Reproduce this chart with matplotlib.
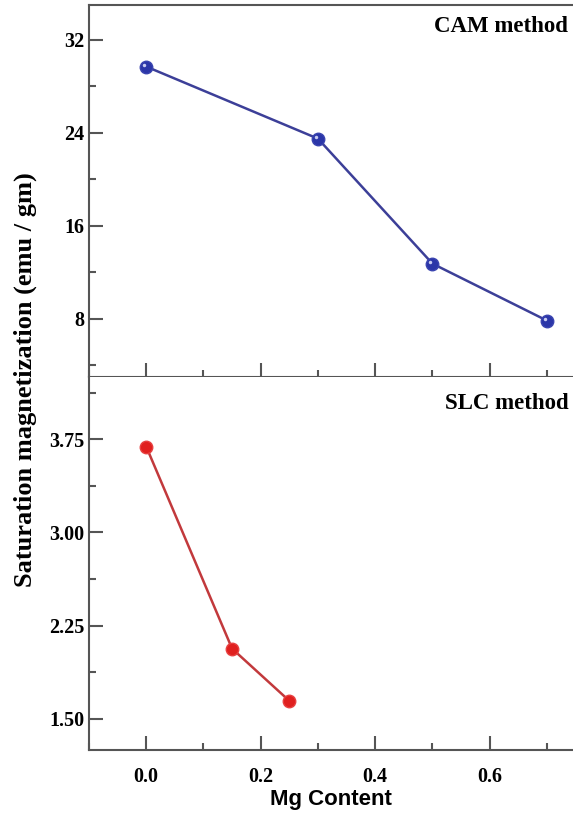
import matplotlib
matplotlib.use('Agg')
import matplotlib.pyplot as plt
from matplotlib.ticker import MultipleLocator, FixedLocator
from matplotlib.transforms import ScaledTranslation

# data
mg_cam = [0.0, 0.3, 0.5, 0.7]
ms_cam = [29.7, 23.5, 12.75, 7.85]

mg_slc = [0.0, 0.15, 0.25]
ms_slc = [3.69, 2.065, 1.645]

cam_ticks = [8, 16, 24, 32]
slc_ticks = [1.50, 2.25, 3.00, 3.75]
x_ticks = [0.0, 0.2, 0.4, 0.6]

serif = 'Liberation Serif'
spine_col = '#555555'

fig = plt.figure(figsize=(5.73, 8.16), dpi=100)
ax1 = fig.add_axes([0.1553, 0.5380, 0.8447, 0.4559])
ax2 = fig.add_axes([0.1553, 0.0809, 0.8447, 0.4571])


def style(ax):
    ax.set_xlim(-0.1, 0.7455)
    ax.xaxis.set_major_locator(FixedLocator(x_ticks))
    ax.xaxis.set_minor_locator(MultipleLocator(0.1))
    ax.tick_params(which='major', direction='in', length=10, width=1.5, color=spine_col)
    ax.tick_params(which='minor', direction='in', length=5, width=1.5, color=spine_col)
    ax.tick_params(top=False, right=False, which='both')
    ax.spines['right'].set_visible(False)
    for s in ['left', 'top', 'bottom']:
        ax.spines[s].set_color(spine_col)
        ax.spines[s].set_linewidth(1.5)
    for lab in ax.get_yticklabels() + ax.get_xticklabels():
        lab.set_fontfamily(serif)
        lab.set_fontweight('bold')
        lab.set_fontsize(14.5)


# top panel: CAM method
ax1.plot(mg_cam, ms_cam, color='#3c3f98', lw=1.8, marker='o', ms=9,
         mfc='#2b36a8', mec='#3a44b0', zorder=3)
# small highlight on the blue balls
shift = ax1.transData + ScaledTranslation(-2/100, 2/100, fig.dpi_scale_trans)
ax1.plot(mg_cam, ms_cam, ls='none', marker='o', ms=2.5, mfc='#c8ccf0',
         mec='none', zorder=4, transform=shift)
ax1.set_ylim(3, 35)
ax1.yaxis.set_major_locator(FixedLocator(cam_ticks))
ax1.yaxis.set_minor_locator(MultipleLocator(4))
ax1.set_yticklabels([str(t) for t in cam_ticks])
ax1.tick_params(labelbottom=False)
ax1.text(0.99, 0.941, 'CAM method', transform=ax1.transAxes, ha='right', va='center',
         fontfamily=serif, fontweight='bold', fontsize=16.5)
style(ax1)

# bottom panel: SLC method
ax2.plot(mg_slc, ms_slc, color='#c2393c', lw=1.8, marker='o', ms=9,
         mfc='#e0201f', mec='#e84040', zorder=3)
ax2.set_ylim(1.25, 4.25)
ax2.yaxis.set_major_locator(FixedLocator(slc_ticks))
ax2.yaxis.set_minor_locator(MultipleLocator(0.375))
ax2.set_yticklabels(['%.2f' % t for t in slc_ticks])
ax2.spines['top'].set_visible(False)
ax2.text(0.99, 0.930, 'SLC method', transform=ax2.transAxes, ha='right', va='center',
         fontfamily=serif, fontweight='bold', fontsize=16.5)
ax2.set_xticklabels(['%.1f' % t for t in x_ticks])
style(ax2)
ax2.tick_params(axis='x', pad=12)

ax2.set_xlabel('Mg Content', fontfamily='Liberation Sans', fontweight='bold',
               fontsize=16, labelpad=2)

fig.text(0.044, 0.535, 'Saturation magnetization (emu / gm)', rotation=90,
         ha='center', va='center', fontfamily=serif, fontweight='bold', fontsize=19)

fig.savefig('out.png', dpi=100)
